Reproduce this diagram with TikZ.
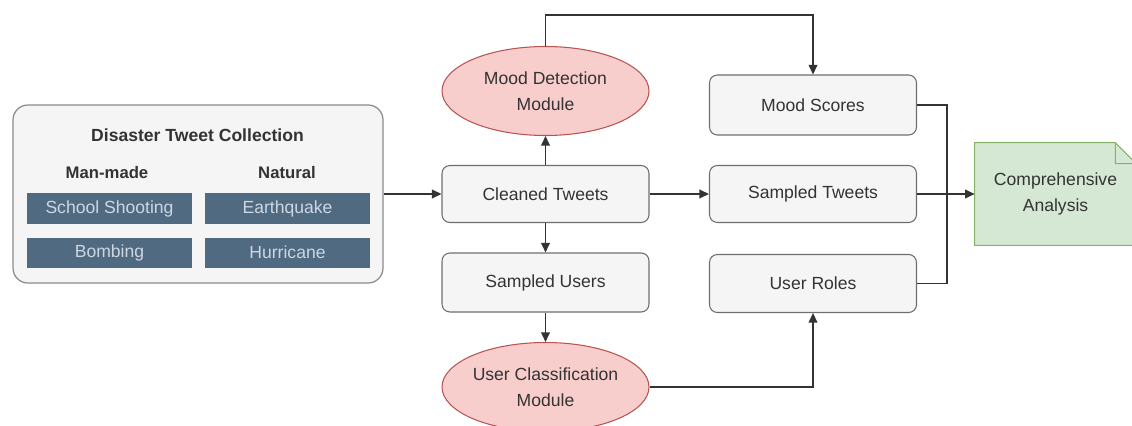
\documentclass[tikz,border=0pt]{standalone}
\usepackage{fontspec}
\setmainfont{Liberation Sans}
\usepackage{tikz}
\usetikzlibrary{shapes.geometric, arrows.meta, positioning, backgrounds}
\definecolor{boxgray}{RGB}{245,245,245}
\definecolor{boxline}{RGB}{110,110,110}
\definecolor{txtgray}{RGB}{51,51,51}
\definecolor{slate}{RGB}{80,106,130}
\definecolor{slatetxt}{RGB}{205,215,225}
\definecolor{modred}{RGB}{248,206,204}
\definecolor{modline}{RGB}{184,84,80}
\definecolor{notegreen}{RGB}{213,232,212}
\definecolor{noteline}{RGB}{130,179,102}

\begin{document}
\begin{tikzpicture}[
  font=\fontsize{10}{15}\selectfont, text=txtgray,
  gbox/.style={rectangle, rounded corners=4.5pt, draw=boxline, line width=0.6pt,
               fill=boxgray, minimum width=4.14cm, minimum height=1.16cm,
               align=center, inner sep=0pt},
  cat/.style={rectangle, fill=slate, text=slatetxt, minimum width=3.30cm,
              minimum height=0.60cm, inner sep=0pt},
  module/.style={ellipse, draw=modline, line width=0.6pt, fill=modred,
                 minimum width=4.14cm, minimum height=1.78cm,
                 align=center, inner sep=0pt},
  arr/.style={-{Triangle[length=5.5pt, width=5pt]}, line width=0.8pt, draw=black!80},
  seg/.style={line width=0.8pt, draw=black!80}
]
\useasboundingbox (0,0) rectangle (22.64,-8.52);

%% -- tweet collection --------------------------------------------------
\node[rectangle, rounded corners=8.5pt, draw=boxline!80, line width=0.7pt,
      fill=boxgray, minimum width=7.40cm, minimum height=3.56cm] (coll) at (3.96,-3.88) {};
\node[font=\fontsize{10}{12}\selectfont\bfseries] (colltitle) at (3.95,-2.70) {Disaster Tweet Collection};
\node[font=\fontsize{9.5}{12}\selectfont\bfseries] (manmade) at (2.14,-3.46) {Man-made};
\node[font=\fontsize{9.5}{12}\selectfont\bfseries] (natural) at (5.74,-3.46) {Natural};

\node[cat] (school) at (2.19,-4.17) {School Shooting};
\node[cat] (quake)  at (5.75,-4.17) {Earthquake};
\node[cat] (bomb)   at (2.19,-5.05) {Bombing};
\node[cat] (storm)  at (5.75,-5.05) {Hurricane};

%% -- processing --------------------------------------------------------
\node[gbox, minimum height=1.14cm] (cleaned) at (10.91,-3.88) {Cleaned Tweets};
\node[module] (mood)  at (10.91,-1.82) {Mood Detection\\Module};
\node[gbox, minimum height=1.18cm] (users) at (10.91,-5.65) {Sampled Users};
\node[module] (ucm)   at (10.91,-7.74) {User Classification\\Module};

%% -- outputs -----------------------------------------------------------
\node[gbox, minimum height=1.20cm] (scores)  at (16.26,-2.10) {Mood Scores};
\node[gbox, minimum height=1.14cm] (stweets) at (16.26,-3.88) {Sampled Tweets};
\node[gbox, minimum height=1.16cm] (roles)   at (16.26,-5.67) {User Roles};

\node[minimum width=3.22cm, minimum height=2.04cm, align=center, inner sep=0pt]
  (comp) at (21.11,-3.88) {Comprehensive\\Analysis};
\begin{scope}[on background layer]
  \draw[fill=notegreen, draw=noteline, line width=0.6pt]
    (comp.south west) -- (comp.north west) -- ([xshift=-0.42cm]comp.north east)
    -- ([yshift=-0.42cm]comp.north east) -- (comp.south east) -- cycle;
  \draw[draw=noteline, line width=0.6pt]
    ([xshift=-0.42cm]comp.north east) -- ++(0,-0.42) -- ([yshift=-0.42cm]comp.north east);
\end{scope}

%% -- connectors --------------------------------------------------------
\draw[arr] (coll.east) -- (cleaned.west);
\draw[arr] (cleaned.north) -- (mood.south);
\draw[arr] (cleaned.south) -- (users.north);
\draw[arr] (users.south) -- (ucm.north);
\draw[arr] (cleaned.east) -- (stweets.west);
\draw[arr] (mood.north) -- ++(0,0.62) -| (scores.north);
\draw[arr] (ucm.east) -| (roles.south);

\coordinate (join) at (18.94,-3.88);
\draw[seg] (scores.east) -| (join);
\draw[seg] (roles.east) -| (join);
\draw[arr] (stweets.east) -- (comp.west);

\end{tikzpicture}
\end{document}
